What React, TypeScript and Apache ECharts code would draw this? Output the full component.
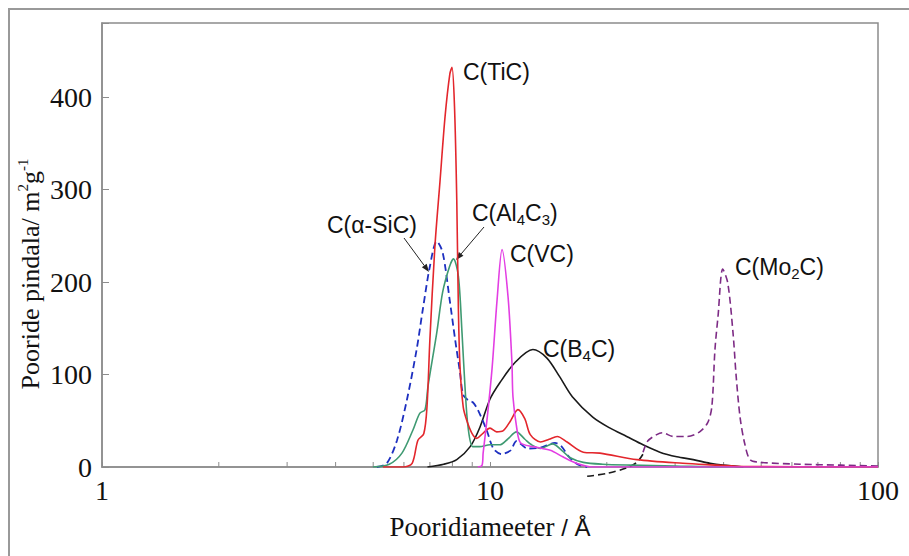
import React, { useEffect, useRef } from 'react';
import * as echarts from 'echarts';

// Pore diameter (Å) vs pore area (m²/g)
const ticCurve: number[][] = [
  [5.3, 0], [5.97, 0], [6.3, 4], [6.52, 29], [6.75, 36], [6.88, 65], [7.0, 138], [7.21, 238],
  [7.43, 308], [7.66, 379], [7.88, 425], [7.98, 432], [8.1, 390], [8.21, 289], [8.29, 170],
  [8.37, 108], [8.53, 65], [8.7, 51], [8.97, 37], [9.24, 31], [9.62, 37], [10.0, 42], [10.4, 38],
  [10.8, 39], [11.3, 50], [11.8, 62], [12.3, 52], [12.7, 35], [13.5, 27], [14.2, 30], [14.9, 33],
  [15.8, 27], [17.4, 16], [19.2, 15], [23.9, 8], [31.4, 4], [38.5, 2], [45, 0.5], [100, 0],
];
const al4c3Curve: number[][] = [
  [4.99, 0], [5.5, 3], [5.93, 15], [6.33, 40], [6.59, 58], [6.8, 62], [6.92, 87], [7.29, 145],
  [7.55, 189], [7.87, 217], [8.05, 225], [8.29, 206], [8.47, 145], [8.62, 87], [8.78, 43],
  [9.03, 22], [9.4, 22], [10.0, 24], [10.6, 24], [11.1, 30], [11.7, 38], [12.3, 30], [12.8, 24],
  [13.5, 20], [14.5, 25], [15.3, 18], [16.1, 10], [17.4, 5], [19.5, 3], [23, 2], [30, 1], [40, 0], [100, 0],
];
const sicCurve: number[][] = [
  [5.11, 0], [5.42, 4], [5.76, 29], [6.11, 73], [6.47, 127], [6.71, 170], [7.0, 217], [7.29, 244],
  [7.55, 232], [7.87, 181], [8.13, 138], [8.37, 102], [8.53, 78], [8.8, 72], [9.03, 70], [9.3, 62],
  [9.8, 40], [10.2, 20], [10.7, 14], [11.3, 18], [11.7, 28], [12.5, 20], [13.5, 21], [14.7, 26],
  [15.3, 22], [15.9, 12], [16.8, 3], [17.8, 0],
];
const vcCurve: number[][] = [
  [9.3, 0], [9.54, 2], [9.6, 15], [9.84, 54], [10.13, 108], [10.43, 181], [10.74, 235], [11.13, 184],
  [11.39, 113], [11.46, 76], [11.74, 40], [12.0, 26], [12.9, 22], [14.3, 18], [15.4, 11], [16.7, 4],
  [18.4, 0], [100, 0],
];
const b4cCurve: number[][] = [
  [6.9, 0], [7.6, 3], [8.21, 8], [8.89, 22], [9.42, 43], [9.99, 73], [10.6, 91], [11.6, 113],
  [12.9, 127], [14.0, 118], [15.1, 98], [16.3, 76], [18.4, 54], [20.4, 42], [22.5, 33], [24.8, 24],
  [27.4, 16], [30.3, 11], [33.4, 8], [36.9, 4], [39.8, 2], [45, 0],
];
const mo2cTail: number[][] = [
  [17.8, -10], [20.0, -7], [22.5, -1], [23.9, 5], [24.8, 14],
];
const mo2cCurve: number[][] = [
  [24.8, 16], [25.5, 28], [26.9, 35], [27.8, 37], [29.7, 33], [32.2, 33], [34.7, 38], [36.4, 48],
  [37.3, 65], [38.0, 127], [38.7, 163], [39.8, 214], [41.0, 199], [42.3, 145], [43.1, 98], [44.1, 54],
  [45.3, 26], [46.8, 8], [49.9, 5], [62.8, 3], [80, 2], [100, 1],
];
const minorTickValues = [2, 3, 4, 5, 6, 7, 8, 9, 20, 30, 40, 50, 60, 70, 80, 90];

const serif = "'Liberation Serif', 'Times New Roman', serif";
const sans = "'Liberation Sans', Arial, sans-serif";
const frameColor = '#8c8c8c';
const inkColor = '#111111';

function arrow(x1: number, y1: number, x2: number, y2: number): any[] {
  const dx = x2 - x1;
  const dy = y2 - y1;
  const len = Math.hypot(dx, dy);
  const ux = dx / len;
  const uy = dy / len;
  const hl = 8;
  const hw = 3;
  const bx = x2 - ux * hl;
  const by = y2 - uy * hl;
  return [
    { type: 'line', silent: true, shape: { x1, y1, x2: bx, y2: by }, style: { stroke: '#222', lineWidth: 1 } },
    {
      type: 'polygon', silent: true,
      shape: { points: [[x2, y2], [bx - uy * hw, by + ux * hw], [bx + uy * hw, by - ux * hw]] },
      style: { fill: '#222' },
    },
  ];
}

function label(x: number, y: number, text: string): any {
  return {
    type: 'text', x, y, silent: true,
    style: {
      text, align: 'left', verticalAlign: 'middle',
      rich: {
        n: { fontSize: 23, fontFamily: sans, fill: inkColor, lineHeight: 27 },
        s: { fontSize: 15, fontFamily: sans, fill: inkColor, lineHeight: 15, verticalAlign: 'bottom' },
      },
    },
  };
}

export default function App() {
  const ref = useRef<HTMLDivElement>(null);
  useEffect(() => {
    const chart = echarts.init(ref.current!, null, { renderer: 'svg' });
    const line = (name: string, data: number[][], color: string, dashed: boolean, z: number, width = 1.6, clip = true) => ({
      type: 'line', name, data, symbol: 'none', showSymbol: false, smooth: 0.3, silent: true, z, clip,
      lineStyle: { color, width, type: dashed ? [7, 4] : 'solid' },
    });
    chart.setOption({
      animation: false,
      backgroundColor: '#ffffff',
      grid: {
        left: 102, right: 31, top: 23, bottom: 89,
        show: true, borderColor: frameColor, borderWidth: 1.5, backgroundColor: 'transparent',
        outerBoundsMode: 'none',
      },
      xAxis: {
        type: 'log', logBase: 10, min: 1, max: 100,
        axisLine: { show: true, lineStyle: { color: frameColor, width: 1.5 } },
        axisTick: { show: true, inside: true, length: 5, lineStyle: { color: frameColor } },
        axisLabel: { fontSize: 28, fontFamily: serif, color: inkColor, margin: 9 },
        splitLine: { show: false },
      },
      yAxis: {
        type: 'value', min: 0, max: 480, interval: 100,
        axisLine: { show: true, lineStyle: { color: frameColor, width: 1.5 } },
        axisTick: { show: true, inside: true, length: 7, lineStyle: { color: frameColor } },
        axisLabel: {
          fontSize: 28, fontFamily: serif, color: inkColor, margin: 10,
          formatter: (v: number) => (v % 100 === 0 ? String(v) : ''),
        },
        splitLine: { show: false },
      },
      series: [
        {
          type: 'custom', silent: true, z: 1, clip: false,
          data: minorTickValues.map((v) => [v, 0]),
          renderItem: (_p: any, api: any) => {
            const pt = api.coord([api.value(0), 0]);
            return {
              type: 'line',
              shape: { x1: pt[0], y1: pt[1], x2: pt[0], y2: pt[1] - 5 },
              style: { stroke: frameColor, lineWidth: 1 },
            };
          },
        },
        line('C(B4C)', b4cCurve, '#1a1a1a', false, 2),
        line('C(Mo2C) tail', mo2cTail, '#1a1a1a', true, 2, 1.6, false),
        line('C(Mo2C)', mo2cCurve, '#7d2b85', true, 3),
        line('C(α-SiC)', sicCurve, '#1d2fc0', true, 4, 1.8),
        line('C(Al4C3)', al4c3Curve, '#3f9a72', false, 5),
        line('C(TiC)', ticCurve, '#e3262c', false, 6),
        line('C(VC)', vcCurve, '#e33ee3', false, 7),
      ],
      graphic: [
        {
          type: 'rect', silent: true, z: -10,
          shape: { x: 9, y: 9, width: 1400, height: 1400 },
          style: { fill: 'none', stroke: '#999999', lineWidth: 2 },
        },
        label(463, 72, '{n|C(TiC)}'),
        label(327, 225, '{n|C(α-SiC)}'),
        label(472, 213, '{n|C(Al}{s|4}{n|C}{s|3}{n|)}'),
        label(510, 254, '{n|C(VC)}'),
        label(543, 349, '{n|C(B}{s|4}{n|C)}'),
        label(735, 267, '{n|C(Mo}{s|2}{n|C)}'),
        ...arrow(404, 238, 429, 272),
        ...arrow(484, 227, 456, 260),
        {
          type: 'text', x: 490, y: 527, silent: true,
          style: {
            text: '{a|Pooridiameeter }{b|/ Å}', align: 'center', verticalAlign: 'middle',
            rich: {
              a: { fontSize: 27, fontFamily: serif, fill: inkColor, lineHeight: 32 },
              b: { fontSize: 24, fontFamily: sans, fill: inkColor, lineHeight: 32 },
            },
          },
        },
        {
          type: 'text', x: 30, y: 274, rotation: Math.PI / 2, silent: true,
          style: {
            text: '{a|Pooride pindala/ m}{s|2}{a|g}{s|-1}', align: 'center', verticalAlign: 'middle',
            rich: {
              a: { fontSize: 26, fontFamily: serif, fill: inkColor, lineHeight: 30 },
              s: { fontSize: 15, fontFamily: serif, fill: inkColor, lineHeight: 15, verticalAlign: 'top' },
            },
          },
        },
      ],
    });
    return () => chart.dispose();
  }, []);
  return <div ref={ref} style={{ position: 'fixed', left: 0, top: 0, width: 909, height: 556 }} />;
}
